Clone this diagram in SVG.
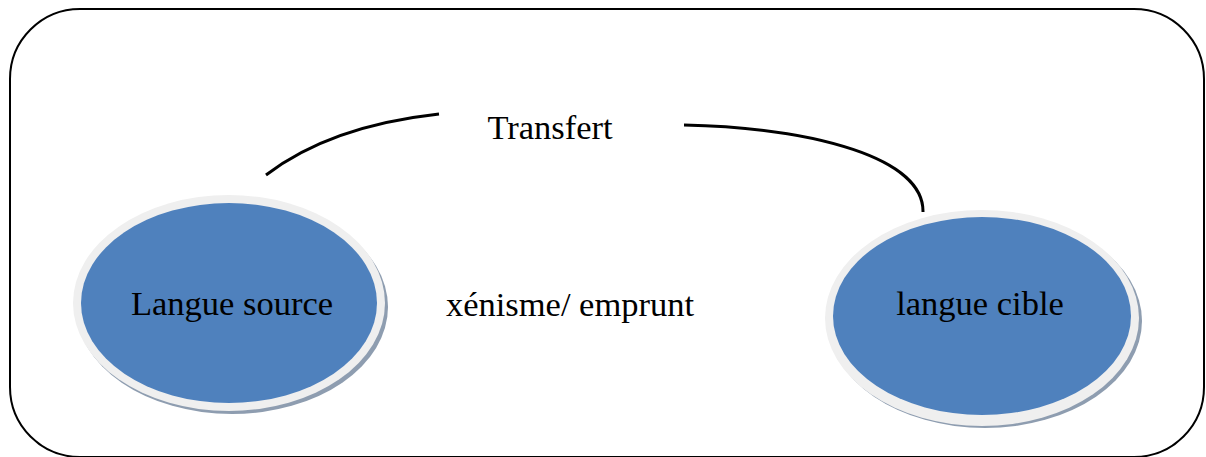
<svg xmlns="http://www.w3.org/2000/svg" width="1206" height="457" viewBox="0 0 1206 457">
<style>
.frame{fill:#fff;stroke:#000;stroke-width:2}
.shadow{fill:#8e9db0}
.ring{fill:#efefef}
.body{fill:#4f81bd}
.lbl{font-family:"Liberation Serif","Times New Roman",serif;font-size:34.5px;fill:#000;text-anchor:middle}
.conn{fill:none;stroke:#000;stroke-width:3}
</style>
<rect class="frame" x="10" y="9" width="1194" height="448" rx="70" ry="70"/>
<g id="connectors">
<path class="conn" d="M266,175 Q330,126 439,114"/>
<path class="conn" d="M684,125 C815,128 924,158 923,212"/>
</g>
<g id="node-source">
<ellipse class="shadow" cx="232" cy="307" rx="156" ry="107"/>
<ellipse class="ring" cx="229" cy="303" rx="156" ry="108"/>
<ellipse class="body" cx="229" cy="303" rx="148" ry="100"/>
<text class="lbl" x="232" y="315">Langue source</text>
</g>
<g id="node-cible">
<ellipse class="shadow" cx="985" cy="321" rx="157" ry="107"/>
<ellipse class="ring" cx="982" cy="318" rx="157" ry="108"/>
<ellipse class="body" cx="982" cy="316" rx="149" ry="99"/>
<text class="lbl" x="980" y="315">langue cible</text>
</g>
<g id="label-transfert">
<text class="lbl" x="550" y="139">Transfert</text>
</g>
<g id="label-xenisme">
<text class="lbl" x="570" y="316">xénisme/ emprunt</text>
</g>
</svg>
